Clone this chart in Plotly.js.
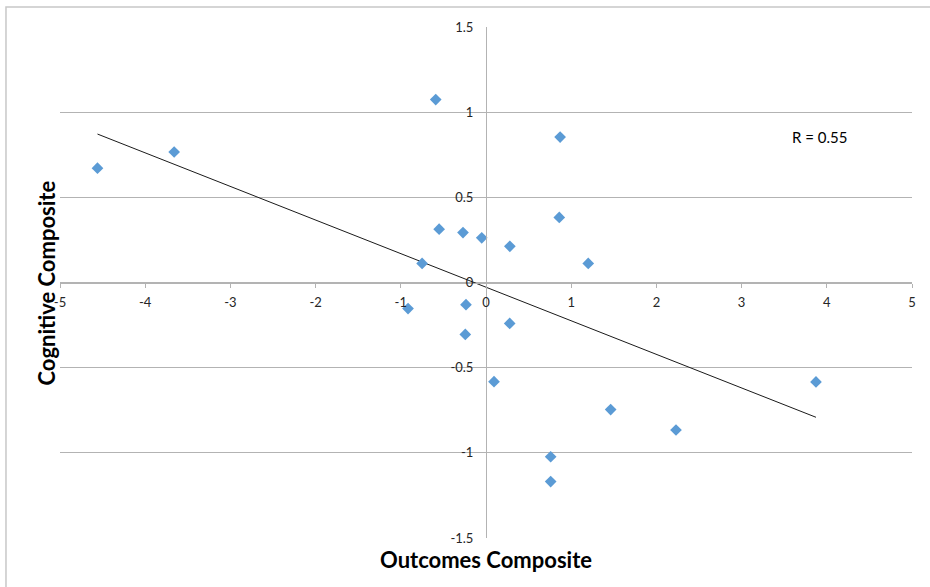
<!DOCTYPE html>
<html>
<head>
<meta charset="utf-8">
<script src="https://cdn.plot.ly/plotly-3.0.1.min.js"></script>
<style>
html,body{margin:0;padding:0;background:#fff;}
#chart{width:930px;height:587px;}
</style>
</head>
<body>
<div id="chart"></div>
<script>
// Outcomes Composite (x) vs Cognitive Composite (y)
const outcomes = [-4.56, -3.66, -0.59, 0.87, 0.86, -0.55, -0.27, -0.05, 0.28, -0.75, 1.20,
                  -0.915, -0.235, -0.243, 0.278, 0.094, 1.463, 2.23, 3.873, 0.759, 0.759];
const cognitive = [0.671, 0.766, 1.074, 0.854, 0.382, 0.313, 0.293, 0.262, 0.2125, 0.112, 0.112,
                   -0.153, -0.13, -0.305, -0.24, -0.582, -0.746, -0.866, -0.584, -1.023, -1.169];
const xTicks = [-5, -4, -3, -2, -1, 0, 1, 2, 3, 4, 5];
const yTicks = [-1.5, -1, -0.5, 0, 0.5, 1, 1.5];
const xTickText = ['-5', '-4', '-3', '-2', '-1', '0', '1', '2', '3', '4', '5'];
const yTickText = ['-1.5', '-1', '-0.5', '0', '0.5', '1', '1.5'];
const rLabel = 'R = 0.55';

// linear (least squares) trend line from the data
const n = outcomes.length;
const mx = outcomes.reduce((a, b) => a + b, 0) / n;
const my = cognitive.reduce((a, b) => a + b, 0) / n;
let sxy = 0, sxx = 0;
for (let i = 0; i < n; i++) { sxy += (outcomes[i] - mx) * (cognitive[i] - my); sxx += (outcomes[i] - mx) ** 2; }
const slope = sxy / sxx, icpt = my - slope * mx;
const xMin = Math.min(...outcomes), xMax = Math.max(...outcomes);
const trendX = [xMin, xMax];
const trendY = trendX.map(v => icpt + slope * v);

const FONT = 'Lato, "Open Sans", sans-serif';
const GRID = '#b3b3b3';

const traces = [
  {
    x: trendX, y: trendY, type: 'scatter', mode: 'lines',
    line: {color: '#1a1a1a', width: 1}, hoverinfo: 'skip', showlegend: false
  },
  {
    x: outcomes, y: cognitive, type: 'scatter', mode: 'markers',
    marker: {symbol: 'diamond', size: 9, color: '#5b9bd5'}, showlegend: false
  }
];

const layout = {
  width: 930, height: 587,
  margin: {l: 60, r: 18, t: 27, b: 49},
  paper_bgcolor: '#ffffff', plot_bgcolor: '#ffffff',
  font: {family: FONT, size: 13, color: '#262626'},
  showlegend: false,
  xaxis: {
    range: [-5, 5], tickmode: 'array', tickvals: xTicks, ticktext: xTickText,
    showgrid: false, zeroline: false,
    showline: true, linecolor: GRID, linewidth: 1,
    anchor: 'free', position: 0.5,
    ticks: 'outside', ticklen: 4, tickcolor: GRID, tickwidth: 1,
    ticklabelstandoff: 4,
    tickfont: {family: FONT, size: 13, color: '#262626'}
  },
  yaxis: {
    range: [-1.5, 1.5], tickmode: 'array', tickvals: yTicks, ticktext: yTickText,
    showgrid: true, gridcolor: GRID, gridwidth: 1, zeroline: false,
    showline: true, linecolor: GRID, linewidth: 1,
    anchor: 'free', position: 0.5,
    ticks: '', ticklabelstandoff: 10,
    tickfont: {family: FONT, size: 13, color: '#262626'}
  },
  shapes: [
    {type: 'rect', xref: 'paper', yref: 'paper', x0: -0.0634, x1: 1.03, y0: -0.11, y1: 1.039,
     line: {color: '#c8c8c8', width: 1.5}, fillcolor: 'rgba(0,0,0,0)', layer: 'below'}
  ],
  annotations: [
    {text: 'Outcomes Composite', xref: 'paper', yref: 'paper', x: 0.5, y: -0.042,
     xanchor: 'center', yanchor: 'middle', showarrow: false,
     font: {family: FONT, size: 22, color: '#000', weight: 'bold'}},
    {text: 'Cognitive Composite', xref: 'paper', yref: 'paper', x: -0.0153, y: 0.5,
     xanchor: 'center', yanchor: 'middle', textangle: -90, showarrow: false,
     font: {family: FONT, size: 22, color: '#000', weight: 'bold'}},
    {text: rLabel, xref: 'x', yref: 'y', x: 3.92, y: 0.855,
     xanchor: 'center', yanchor: 'middle', showarrow: false,
     font: {family: FONT, size: 15, color: '#000'}}
  ]
};

Plotly.newPlot('chart', traces, layout, {displayModeBar: false, staticPlot: true});
</script>
</body>
</html>
